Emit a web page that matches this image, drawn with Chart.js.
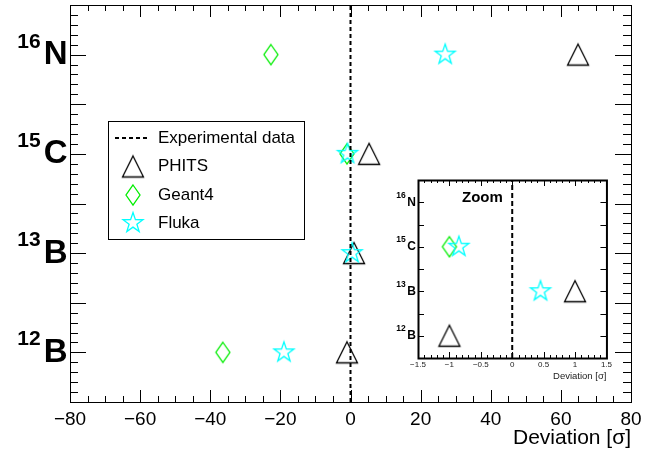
<!DOCTYPE html>
<html>
<head>
<meta charset="utf-8">
<script src="https://cdn.jsdelivr.net/npm/chart.js@4.4.1/dist/chart.umd.min.js"></script>
<style>
  body { margin: 0; background: #fff; }
  #wrap { position: relative; width: 667px; height: 455px; }
  #main { position: absolute; left: 0; top: 0; }
  #zoom { position: absolute; left: 392px; top: 174px; background: #fff; }
</style>
</head>
<body>
<div id="wrap">
  <canvas id="main" width="667" height="455"></canvas>
  <canvas id="zoom" width="222" height="212"></canvas>
</div>
<script>
// nuclei on the y axis (bottom to top)
const massNumbers = ["12", "13", "15", "16"];
const elements = ["B", "B", "C", "N"];
const nucleusPos = [0, 1, 2, 3];

// deviation from experiment, in sigma
const phitsDev = [-1.0, 1.0, 5.3, 64.9];
const geant4Dev = [-36.4, null, -1.0, -22.7];
const flukaDev = [-19.0, 0.45, -0.85, 27.0];
const experimentalDev = 0;

const mainRange = [-80, 80];
const zoomRange = [-1.5, 1.5];
const yRange = [-0.5, 3.5];

const FONT = '"Liberation Sans", Arial, Helvetica, sans-serif';
Chart.defaults.font.family = FONT;
Chart.defaults.color = "#000";

function makeMarker(kind, color) {
  const c = document.createElement("canvas");
  c.width = 26; c.height = 26;
  const g = c.getContext("2d");
  const cx = 13, cy = 13;
  g.strokeStyle = color;
  g.lineWidth = 1.3;
  g.beginPath();
  if (kind === "triangle") {
    g.moveTo(cx, cy - 10.5);
    g.lineTo(cx + 10.5, cy + 10.5);
    g.lineTo(cx - 10.5, cy + 10.5);
  } else if (kind === "diamond") {
    g.moveTo(cx, cy - 10);
    g.lineTo(cx + 7, cy);
    g.lineTo(cx, cy + 10);
    g.lineTo(cx - 7, cy);
  } else {
    for (let i = 0; i < 10; i++) {
      const r = i % 2 ? 4.1 : 10.5;
      const a = -Math.PI / 2 + i * Math.PI / 5;
      const px = cx + r * Math.cos(a), py = cy + r * Math.sin(a);
      if (i) g.lineTo(px, py); else g.moveTo(px, py);
    }
  }
  g.closePath();
  g.stroke();
  return c;
}

const triMarker = makeMarker("triangle", "#000");
const diaMarker = makeMarker("diamond", "#00ee00");
const starMarker = makeMarker("star", "#00ffff");

function points(devs) {
  return devs.map((d, i) => d === null ? null : { x: d, y: nucleusPos[i] }).filter(p => p);
}

function makeDatasets(dash) {
  return [
    { label: "Experimental data", data: [{ x: experimentalDev, y: yRange[0] }, { x: experimentalDev, y: yRange[1] }],
      showLine: true, borderColor: "#000", borderWidth: 2, borderDash: dash, pointRadius: 0, order: 0 },
    { label: "PHITS", data: points(phitsDev), pointStyle: triMarker, pointRadius: 11, order: 3 },
    { label: "Geant4", data: points(geant4Dev), pointStyle: diaMarker, pointRadius: 11, order: 2 },
    { label: "Fluka", data: points(flukaDev), pointStyle: starMarker, pointRadius: 11, order: 1 }
  ];
}

function minus(v) {
  return v < 0 ? "\u2212" + Math.abs(v) : String(v);
}

function eachTick(min, max, minor, major, fn) {
  const k0 = Math.ceil(min / minor - 1e-9), k1 = Math.floor(max / minor + 1e-9);
  for (let k = k0; k <= k1; k++) {
    const v = k * minor;
    const q = v / major;
    fn(v, Math.abs(q - Math.round(q)) < 1e-6);
  }
}

// ROOT style frame with inward ticks on all four sides
const rootFrame = {
  id: "rootFrame",
  afterDatasetsDraw(chart, args, o) {
    const { ctx, chartArea: a, scales: { x, y } } = chart;
    ctx.save();
    ctx.strokeStyle = "#000";
    ctx.lineWidth = 1;
    ctx.beginPath();
    eachTick(x.min, x.max, o.xMinor, o.xMajor, (v, major) => {
      const px = Math.round(x.getPixelForValue(v)) + 0.5;
      const L = major ? o.xMajLen : o.xMinLen;
      ctx.moveTo(px, a.bottom); ctx.lineTo(px, a.bottom - L);
      ctx.moveTo(px, a.top); ctx.lineTo(px, a.top + L);
    });
    eachTick(y.min, y.max, o.yMinor, o.yMajor, (v, major) => {
      const py = Math.round(y.getPixelForValue(v)) + 0.5;
      const L = major ? o.yMajLen : o.yMinLen;
      ctx.moveTo(a.left, py); ctx.lineTo(a.left + L, py);
      ctx.moveTo(a.right, py); ctx.lineTo(a.right - L, py);
    });
    ctx.stroke();
    ctx.lineWidth = o.frameWidth;
    ctx.strokeRect(a.left + 0.5, a.top + 0.5, a.right - a.left, a.bottom - a.top);
    ctx.restore();
  }
};

// nucleus labels with superscript mass numbers
const nucleusLabels = {
  id: "nucleusLabels",
  afterDraw(chart, args, o) {
    const { ctx, chartArea: a, scales: { y } } = chart;
    ctx.save();
    ctx.fillStyle = "#000";
    ctx.textAlign = "right";
    ctx.textBaseline = "alphabetic";
    nucleusPos.forEach((v, i) => {
      const py = y.getPixelForValue(v);
      const xr = a.left - o.gap;
      ctx.font = "bold " + o.elSize + "px " + FONT;
      ctx.fillText(elements[i], xr, py + o.elShift);
      const w = ctx.measureText(elements[i]).width;
      ctx.font = "bold " + o.supSize + "px " + FONT;
      ctx.fillText(massNumbers[i], xr - w - o.supGap, py + o.supShift);
    });
    if (o.tag) {
      ctx.textAlign = "left";
      ctx.font = "bold 15px " + FONT;
      ctx.fillText(o.tag, a.left + 44, a.top + 22);
    }
    ctx.restore();
  }
};

// legend box inside the main frame
const rootLegend = {
  id: "rootLegend",
  afterDraw(chart, args, o) {
    if (!o.show) return;
    const ctx = chart.ctx;
    ctx.save();
    ctx.fillStyle = "#fff";
    ctx.fillRect(108.5, 121.5, 196, 118);
    ctx.strokeStyle = "#000";
    ctx.lineWidth = 1;
    ctx.strokeRect(108.5, 121.5, 196, 118);
    const rows = [138, 166.5, 195, 223];
    ctx.font = "17px " + FONT;
    ctx.textBaseline = "middle";
    ctx.fillStyle = "#000";
    chart.data.datasets.forEach((ds, i) => {
      const cy = rows[i];
      if (ds.showLine) {
        ctx.beginPath();
        ctx.setLineDash([4, 3]);
        ctx.lineWidth = 2;
        ctx.moveTo(115, cy); ctx.lineTo(148, cy);
        ctx.stroke();
        ctx.setLineDash([]);
      } else {
        ctx.drawImage(ds.pointStyle, 133 - 13, cy - 13);
      }
      ctx.fillText(ds.label, 158, cy);
    });
    ctx.restore();
  }
};

new Chart(document.getElementById("main"), {
  type: "scatter",
  data: { datasets: makeDatasets([4, 3]) },
  plugins: [rootFrame, nucleusLabels, rootLegend],
  options: {
    responsive: false,
    animation: false,
    devicePixelRatio: 1,
    layout: { autoPadding: false, padding: { top: 5, right: 36, left: 0, bottom: 0 } },
    plugins: {
      legend: { display: false },
      tooltip: { enabled: false },
      rootFrame: { xMinor: 5, xMajor: 20, xMinLen: 6, xMajLen: 12, yMinor: 0.1, yMajor: 0.5, yMinLen: 8, yMajLen: 16, frameWidth: 1 },
      nucleusLabels: { gap: 2.5, elSize: 33, elShift: 9.5, supSize: 21, supShift: -7, supGap: 3 },
      rootLegend: { show: true }
    },
    scales: {
      x: {
        type: "linear", min: mainRange[0], max: mainRange[1],
        grid: { display: false, drawTicks: false },
        border: { display: false },
        ticks: { stepSize: 20, padding: 6, font: { size: 19 }, color: "#000", maxRotation: 0, autoSkip: false, callback: minus },
        title: { display: true, text: "Deviation [σ]", align: "end", color: "#000", font: { size: 21 }, padding: { top: 0, bottom: 4 } },
        afterFit(s) { s.height = 53; }
      },
      y: {
        type: "linear", min: yRange[0], max: yRange[1],
        grid: { display: false, drawTicks: false },
        border: { display: false },
        ticks: { display: false },
        afterFit(s) { s.width = 70; }
      }
    }
  }
});

new Chart(document.getElementById("zoom"), {
  type: "scatter",
  data: { datasets: makeDatasets([5, 3]) },
  plugins: [rootFrame, nucleusLabels],
  options: {
    responsive: false,
    animation: false,
    devicePixelRatio: 1,
    layout: { autoPadding: false, padding: { top: 6, right: 6, left: 0, bottom: 0 } },
    plugins: {
      legend: { display: false },
      tooltip: { enabled: false },
      rootFrame: { xMinor: 0.1, xMajor: 0.5, xMinLen: 3, xMajLen: 6, yMinor: 0.5, yMajor: 0.5, yMinLen: 6, yMajLen: 6, frameWidth: 2 },
      nucleusLabels: { gap: 2.2, elSize: 12, elShift: 3.5, supSize: 8.5, supShift: -4.7, supGap: 1.5, tag: "Zoom" }
    },
    scales: {
      x: {
        type: "linear", min: zoomRange[0], max: zoomRange[1],
        grid: { display: false, drawTicks: false },
        border: { display: false },
        ticks: { stepSize: 0.5, padding: 2, font: { size: 8 }, color: "#222", maxRotation: 0, autoSkip: false, callback: minus },
        title: { display: true, text: "Deviation [σ]", align: "end", color: "#222", font: { size: 9.5 }, padding: { top: 0, bottom: 4 } },
        afterFit(s) { s.height = 28; }
      },
      y: {
        type: "linear", min: yRange[0], max: yRange[1],
        grid: { display: false, drawTicks: false },
        border: { display: false },
        ticks: { display: false },
        afterFit(s) { s.width = 26; }
      }
    }
  }
});
</script>
</body>
</html>
